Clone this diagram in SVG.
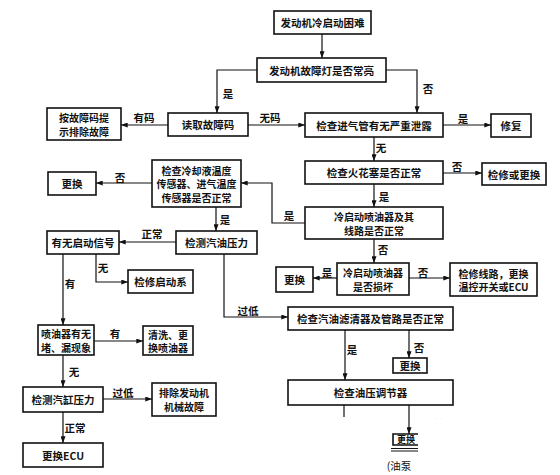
<svg xmlns="http://www.w3.org/2000/svg" width="560" height="475" viewBox="0 0 560 475">
<style>
.b{fill:#fff;stroke:#111;stroke-width:1.6}
.t{font-family:"Noto Sans CJK SC","Liberation Sans",sans-serif;font-size:10.5px;font-weight:bold;fill:#111;text-anchor:middle;dominant-baseline:central}
.m{font-family:"Noto Sans CJK SC","Liberation Sans",sans-serif;font-size:10px;font-weight:bold;fill:#111;text-anchor:middle;dominant-baseline:central}
.l{font-family:"Noto Sans CJK SC","Liberation Sans",sans-serif;font-size:10.5px;font-weight:bold;fill:#111;text-anchor:middle;dominant-baseline:central}
.c{fill:none;stroke:#111;stroke-width:1.2;marker-end:url(#a)}
.s{fill:none;stroke:#111;stroke-width:1.2}
</style>
<defs>
<marker id="a" viewBox="0 0 8 6" refX="8" refY="3" markerWidth="7" markerHeight="5" orient="auto" markerUnits="userSpaceOnUse"><path d="M0,0L8,3L0,6z" fill="#111"/></marker>
<clipPath id="cp"><rect x="400" y="405" width="60" height="14"/></clipPath>
</defs>
<rect width="560" height="475" fill="#fff"/>
<g id="connectors">
<path class="c" d="M322,34V58"/>
<path class="c" d="M257,70H217V113"/><text class="l" x="228" y="93">是</text>
<path class="c" d="M386,70H417V113"/><text class="l" x="428" y="88">否</text>
<path class="c" d="M168,125H121"/><text class="l" x="144" y="117">有码</text>
<path class="c" d="M248,125H305"/><text class="l" x="270" y="117">无码</text>
<path class="c" d="M443,125H491"/><text class="l" x="463" y="118">是</text>
<path class="c" d="M374,137V161"/><text class="l" x="381" y="147">无</text>
<path class="c" d="M443,173H482"/><text class="l" x="457" y="166">否</text>
<path class="c" d="M374,184V207"/><text class="l" x="384" y="196">是</text>
<path class="c" d="M305,223H272V183H241"/><text class="l" x="289" y="215">是</text>
<path class="c" d="M374,239V263"/><text class="l" x="383" y="249">否</text>
<path class="c" d="M337,278H313"/><text class="l" x="327" y="272">是</text>
<path class="c" d="M409,278H450"/><text class="l" x="423" y="272">否</text>
<path class="c" d="M152,183H96"/><text class="l" x="120" y="177">否</text>
<path class="c" d="M216,207V231"/><text class="l" x="225" y="219">是</text>
<path class="c" d="M176,242H119"/><text class="l" x="152" y="233">正常</text>
<path class="c" d="M96,254V282H128"/><text class="l" x="103" y="267">无</text>
<path class="c" d="M63,254V325"/><text class="l" x="70" y="283">有</text>
<path class="c" d="M224,254V317H288"/><text class="l" x="248" y="310">过低</text>
<path class="c" d="M94,341H143"/><text class="l" x="115" y="333">有</text>
<path class="c" d="M63,355V387"/><text class="l" x="74" y="371">无</text>
<path class="c" d="M103,399H152"/><text class="l" x="123" y="392">过低</text>
<path class="c" d="M63,412V443"/><text class="l" x="75" y="427">正常</text>
<path class="c" d="M345,330V380"/><text class="l" x="352" y="349">是</text>
<path class="c" d="M409,330V358"/><text class="l" x="419" y="347">否</text>
<path class="s" d="M344,405V417"/>
<path class="c" d="M409,405V434"/><text class="l" x="428" y="423" clip-path="url(#cp)">不正常</text>
</g>
<g id="n1"><rect class="b" x="274" y="11" width="97" height="23"/><text class="t" x="322.5" y="22.5">发动机冷启动困难</text></g>
<g id="n2"><rect class="b" x="257" y="58" width="129" height="24"/><text class="t" x="321.5" y="70">发动机故障灯是否常亮</text></g>
<g id="n3"><rect class="b" x="168" y="113" width="80" height="23"/><text class="t" x="208" y="124.5">读取故障码</text></g>
<g id="n4"><rect class="b" x="47" y="108" width="74" height="32"/><text class="m" x="84" y="117.5">按故障码提</text><text class="m" x="84" y="131">示排除故障</text></g>
<g id="n5"><rect class="b" x="305" y="113" width="138" height="24"/><text class="t" x="374" y="125">检查进气管有无严重泄露</text></g>
<g id="n6"><rect class="b" x="491" y="114" width="40" height="23"/><text class="t" x="511" y="125.5">修复</text></g>
<g id="n7"><rect class="b" x="305" y="161" width="138" height="23"/><text class="t" x="374" y="172.5">检查火花塞是否正常</text></g>
<g id="n8"><rect class="b" x="482" y="163" width="64" height="22"/><text class="t" x="514" y="174">检修或更换</text></g>
<g id="n9"><rect class="b" x="305" y="207" width="138" height="32"/><text class="m" x="374" y="216.5">冷启动喷油器及其</text><text class="m" x="374" y="230">线路是否正常</text></g>
<g id="n10"><rect class="b" x="337" y="263" width="72" height="32"/><text class="m" x="373" y="272.5">冷启动喷油器</text><text class="m" x="373" y="286">是否损坏</text></g>
<g id="n11"><rect class="b" x="276" y="267" width="37" height="25"/><text class="t" x="294.5" y="279.5">更换</text></g>
<g id="n12"><rect class="b" x="450" y="263" width="87" height="33"/><text class="m" x="493.5" y="273">检修线路，更换</text><text class="m" x="493.5" y="286.5">温控开关或ECU</text></g>
<g id="n13"><rect class="b" x="152" y="160" width="89" height="47"/><text class="m" x="196.5" y="170">检查冷却液温度</text><text class="m" x="196.5" y="183.5">传感器、进气温度</text><text class="m" x="196.5" y="197">传感器是否正常</text></g>
<g id="n14"><rect class="b" x="48" y="172" width="48" height="23"/><text class="t" x="72" y="183.5">更换</text></g>
<g id="n15"><rect class="b" x="176" y="231" width="81" height="23"/><text class="t" x="216.5" y="242.5">检测汽油压力</text></g>
<g id="n16"><rect class="b" x="47" y="231" width="72" height="23"/><text class="t" x="83" y="242.5">有无启动信号</text></g>
<g id="n17"><rect class="b" x="128" y="270" width="65" height="23"/><text class="t" x="160.5" y="281.5">检修启动系</text></g>
<g id="n18"><rect class="b" x="38" y="325" width="56" height="30"/><text class="m" x="66" y="333.5">喷油器有无</text><text class="m" x="66" y="347">堵、漏现象</text></g>
<g id="n19"><rect class="b" x="143" y="326" width="50" height="29"/><text class="m" x="168" y="334">清洗、更</text><text class="m" x="168" y="347.5">换喷油器</text></g>
<g id="n20"><rect class="b" x="23" y="387" width="80" height="25"/><text class="t" x="63" y="399.5">检测汽缸压力</text></g>
<g id="n21"><rect class="b" x="152" y="383" width="64" height="33"/><text class="m" x="184" y="392.5">排除发动机</text><text class="m" x="184" y="406">机械故障</text></g>
<g id="n22"><rect class="b" x="23" y="443" width="80" height="24"/><text class="t" x="63" y="455">更换ECU</text></g>
<g id="n23"><rect class="b" x="288" y="307" width="165" height="23"/><text class="t" x="370.5" y="318.5">检查汽油滤清器及管路是否正常</text></g>
<g id="n24"><rect class="b" x="393" y="358" width="34" height="15"/><text class="t" x="410" y="365.5">更换</text></g>
<g id="n25"><rect class="b" x="288" y="380" width="165" height="25"/><text class="t" x="370.5" y="392.5">检查油压调节器</text></g>
<g id="n26"><path class="s" d="M418,434H393V445H418" style="stroke-width:1.6"/><text class="t" x="406" y="439.5" style="font-size:9px">更换</text><path class="s" d="M391,448.5H418M391,451H418"/><text class="t" x="399" y="465" style="font-weight:normal">(油泵</text></g>
</svg>
